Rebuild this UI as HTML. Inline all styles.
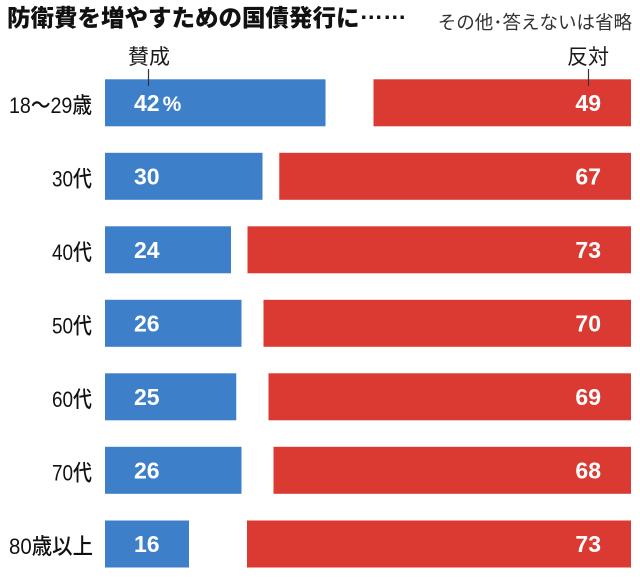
<!DOCTYPE html>
<html>
<head>
<meta charset="utf-8">
<style>
  html, body { margin: 0; padding: 0; background: #ffffff; }
  svg { display: block; }
  .jp { font-family: "Liberation Sans", "Noto Sans CJK JP", sans-serif; }
  .val { font-family: "Liberation Sans", sans-serif; font-weight: bold; font-size: 23px; fill: #ffffff; }
  .lab { font-family: "Liberation Sans", "Noto Sans CJK JP", sans-serif; font-size: 22px; fill: #111111; font-weight: 500; }
</style>
</head>
<body>
<svg width="640" height="581" viewBox="0 0 640 581" xmlns="http://www.w3.org/2000/svg">
  <rect x="0" y="0" width="640" height="581" fill="#ffffff"/>

  <!-- Title -->
  <text x="7" y="26" class="jp" font-size="23.5" font-weight="900" fill="#111111">防衛費を増やすための国債発行に<tspan dy="-7">……</tspan></text>
  <text x="632" y="29" class="jp" font-size="18.5" fill="#333333" text-anchor="end">その他･答えないは省略</text>

  <!-- Legend labels -->
  <text x="149" y="64" class="jp" font-size="21" fill="#1a1a1a" text-anchor="middle">賛成</text>
  <line x1="148.5" y1="69" x2="148.5" y2="80" stroke="#333333" stroke-width="1.2"/>
  <text x="588" y="64" class="jp" font-size="21" fill="#1a1a1a" text-anchor="middle">反対</text>
  <line x1="588.5" y1="69" x2="588.5" y2="80" stroke="#333333" stroke-width="1.2"/>

  <!-- Row 1: 18〜29歳 -->
  <rect x="105" y="79.3" width="220.5" height="47" fill="#3e7fc9"/>
  <rect x="373.5" y="79.3" width="257.5" height="47" fill="#db3a33"/>
  <line x1="148.5" y1="79" x2="148.5" y2="86" stroke="#333333" stroke-width="1.2"/>
  <line x1="588.5" y1="79" x2="588.5" y2="86" stroke="#333333" stroke-width="1.2"/>
  <text x="9" y="113" class="lab" textLength="83" lengthAdjust="spacingAndGlyphs">18〜29歳</text>
  <text x="134" y="111" class="val">42<tspan font-size="21" dx="3">%</tspan></text>
  <text x="601" y="111" class="val" text-anchor="end">49</text>

  <!-- Row 2: 30代 -->
  <rect x="105" y="152.8" width="157.5" height="47" fill="#3e7fc9"/>
  <rect x="279.25" y="152.8" width="351.75" height="47" fill="#db3a33"/>
  <text x="52" y="186.5" class="lab" textLength="40" lengthAdjust="spacingAndGlyphs">30代</text>
  <text x="134" y="184.5" class="val">30</text>
  <text x="601" y="184.5" class="val" text-anchor="end">67</text>

  <!-- Row 3: 40代 -->
  <rect x="105" y="226.3" width="126" height="47" fill="#3e7fc9"/>
  <rect x="247.5" y="226.3" width="383.5" height="47" fill="#db3a33"/>
  <text x="52" y="260" class="lab" textLength="40" lengthAdjust="spacingAndGlyphs">40代</text>
  <text x="134" y="258" class="val">24</text>
  <text x="601" y="258" class="val" text-anchor="end">73</text>

  <!-- Row 4: 50代 -->
  <rect x="105" y="299.8" width="136.5" height="47" fill="#3e7fc9"/>
  <rect x="263.5" y="299.8" width="367.5" height="47" fill="#db3a33"/>
  <text x="52" y="333.5" class="lab" textLength="40" lengthAdjust="spacingAndGlyphs">50代</text>
  <text x="134" y="331.5" class="val">26</text>
  <text x="601" y="331.5" class="val" text-anchor="end">70</text>

  <!-- Row 5: 60代 -->
  <rect x="105" y="373.3" width="131.25" height="47" fill="#3e7fc9"/>
  <rect x="268.5" y="373.3" width="362.5" height="47" fill="#db3a33"/>
  <text x="52" y="407" class="lab" textLength="40" lengthAdjust="spacingAndGlyphs">60代</text>
  <text x="134" y="405" class="val">25</text>
  <text x="601" y="405" class="val" text-anchor="end">69</text>

  <!-- Row 6: 70代 -->
  <rect x="105" y="446.8" width="136.5" height="47" fill="#3e7fc9"/>
  <rect x="273.5" y="446.8" width="357.5" height="47" fill="#db3a33"/>
  <text x="52" y="480.5" class="lab" textLength="40" lengthAdjust="spacingAndGlyphs">70代</text>
  <text x="134" y="478.5" class="val">26</text>
  <text x="601" y="478.5" class="val" text-anchor="end">68</text>

  <!-- Row 7: 80歳以上 -->
  <rect x="105" y="520.5" width="84" height="47" fill="#3e7fc9"/>
  <rect x="247" y="520.5" width="384" height="47" fill="#db3a33"/>
  <text x="9" y="554" class="lab" textLength="84" lengthAdjust="spacingAndGlyphs">80歳以上</text>
  <text x="134" y="552" class="val">16</text>
  <text x="601" y="552" class="val" text-anchor="end">73</text>
</svg>
</body>
</html>
